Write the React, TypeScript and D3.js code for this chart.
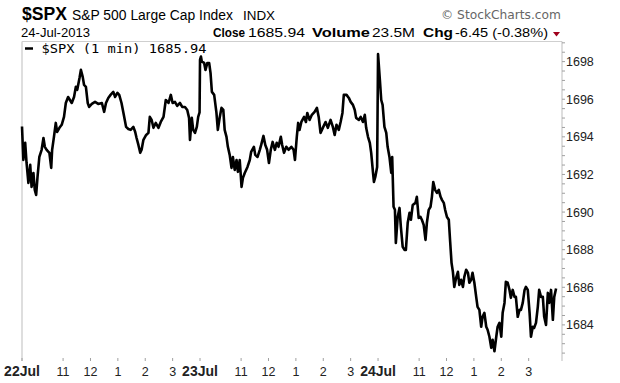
import React from "react";
import * as d3 from "d3";

// ---- data (minutes after 9:30 open, price) ----
const day1: [number, number][] = [
  [0,1694.55],[3,1692.77],[7,1693.68],[10,1692.61],[14,1691.55],[18,1692.51],[21,1691.34],[25,1692.08],[28,1691.18],[31,1690.91],[34,1691.87],[38,1692.93],[43,1693.31],[47,1693.94],[50,1693.47],[54,1693.31],[60,1693.15],[64,1692.35],[66,1693.31],[70,1694.00],[74,1694.74],[77,1694.26],[82,1694.48],[87,1694.64],[92,1695.06],[96,1695.80],[101,1696.12],[105,1695.96],[109,1695.80],[114,1696.12],[118,1696.66],[121,1696.50],[126,1697.13],[129,1697.56],[133,1697.19],[136,1696.76],[140,1696.66],[144,1695.80],[147,1695.59],[153,1695.75],[160,1695.86],[167,1695.75],[175,1695.80],[180,1695.33],[184,1695.80],[189,1696.07],[194,1696.23],[200,1696.39],[204,1696.12],[209,1696.34],[213,1696.23],[218,1695.80],[223,1695.17],[228,1694.53],[233,1694.42],[238,1694.37],[244,1694.53],[248,1694.26],[251,1693.94],[255,1693.57],[259,1693.15],[262,1693.31],[266,1693.84],[272,1694.10],[277,1694.21],[280,1695.06],[284,1694.90],[288,1694.48],[293,1694.74],[299,1694.48],[304,1694.79],[310,1695.06],[315,1695.96],[321,1695.80],[326,1696.23],[330,1695.80],[335,1695.86],[340,1695.65],[346,1695.80],[351,1695.59],[357,1695.59],[362,1695.43],[366,1695.01],[368,1693.84],[372,1695.01],[375,1694.37],[379,1694.21],[383,1694.53],[386,1695.06],[389,1695.30]
];
const day2: [number, number][] = [
  [0,1698.10],[2,1698.27],[4,1698.00],[9,1697.93],[12,1697.56],[16,1697.93],[20,1697.93],[23,1697.40],[26,1696.39],[31,1696.23],[36,1695.27],[39,1694.37],[43,1695.01],[47,1695.54],[51,1695.43],[54,1694.37],[58,1694.00],[61,1693.47],[65,1693.04],[69,1692.35],[72,1692.93],[76,1692.24],[80,1692.77],[83,1692.14],[87,1692.77],[91,1691.34],[94,1691.82],[98,1692.08],[104,1692.40],[109,1692.77],[112,1693.20],[118,1693.47],[121,1693.04],[126,1692.93],[131,1693.31],[134,1693.57],[139,1694.05],[143,1693.57],[147,1693.31],[151,1692.61],[155,1693.31],[159,1693.73],[164,1693.31],[168,1693.68],[172,1693.47],[177,1694.00],[180,1693.57],[184,1693.15],[189,1693.47],[194,1693.31],[200,1693.47],[205,1693.31],[208,1692.77],[212,1694.00],[215,1694.74],[218,1694.37],[222,1694.79],[228,1695.06],[232,1694.79],[235,1695.27],[240,1694.90],[245,1695.17],[251,1695.33],[256,1695.54],[260,1695.06],[264,1694.21],[270,1694.53],[275,1694.79],[280,1694.48],[286,1694.90],[291,1694.53],[295,1694.10],[299,1694.64],[304,1694.37],[308,1694.79],[312,1695.27],[315,1696.23],[321,1696.23],[326,1696.07],[330,1695.86],[335,1695.70],[339,1695.43],[342,1695.01],[348,1694.90],[352,1695.06],[357,1694.79],[361,1695.17],[364,1694.48],[368,1694.00],[372,1693.68],[375,1693.15],[379,1692.08],[381,1691.60],[384,1691.87],[388,1692.40]
];
const day3: [number, number][] = [
  [0,1698.40],[4,1697.03],[7,1695.96],[10,1695.70],[14,1694.53],[18,1694.21],[21,1693.47],[25,1692.93],[29,1692.08],[31,1692.93],[34,1690.28],[37,1690.12],[39,1688.36],[43,1689.74],[47,1690.22],[50,1689.21],[54,1688.15],[58,1687.99],[61,1687.99],[65,1689.43],[69,1689.96],[72,1689.59],[76,1690.38],[82,1690.49],[85,1690.81],[89,1689.69],[93,1689.74],[96,1689.59],[100,1689.32],[104,1688.52],[107,1689.43],[111,1690.12],[115,1690.28],[118,1690.81],[121,1691.60],[125,1691.18],[129,1691.02],[133,1691.18],[137,1690.81],[140,1690.65],[144,1690.49],[147,1690.12],[151,1689.74],[155,1689.59],[158,1688.42],[161,1687.30],[164,1686.82],[167,1686.02],[171,1686.50],[175,1686.82],[178,1686.13],[182,1686.40],[186,1686.02],[189,1686.55],[193,1686.93],[197,1686.77],[200,1686.24],[204,1686.40],[207,1686.77],[211,1686.24],[215,1685.49],[218,1684.96],[222,1684.80],[226,1683.90],[229,1684.43],[233,1684.64],[237,1683.90],[240,1683.74],[244,1683.37],[248,1682.78],[251,1683.21],[255,1682.60],[259,1683.37],[262,1683.90],[266,1684.11],[270,1683.37],[273,1684.64],[277,1685.17],[280,1686.29],[284,1686.24],[288,1685.86],[291,1685.44],[295,1685.86],[299,1685.49],[302,1685.49],[306,1684.43],[310,1684.80],[313,1684.80],[317,1685.17],[321,1685.86],[324,1686.02],[328,1685.86],[332,1684.64],[335,1683.37],[339,1683.90],[342,1683.84],[346,1684.11],[350,1684.96],[353,1685.86],[357,1685.49],[361,1685.49],[364,1684.43],[368,1684.00],[372,1685.70],[375,1685.17],[379,1685.86],[383,1684.27],[386,1685.49],[390,1685.94]
];
const days = [day1, day2, day3];
const dayLabels = ["22Jul", "23Jul", "24Jul"];
const hourLabels = ["11", "12", "1", "2", "3"];
const hourOffsets = [90, 150, 210, 270, 330];
const yTickValues = [1684, 1686, 1688, 1690, 1692, 1694, 1696, 1698];
const SESSION = 390;

export default function App() {
  const W = 620, H = 383;
  const left = 22, right = 562, top = 41.5, bottom = 361;
  const x = d3.scaleLinear().domain([0, 1183]).range([left, right]);
  const y = d3.scaleLinear().domain([1682.08, 1699.07]).range([bottom, top]);

  const series: [number, number][] = [];
  days.forEach((d, i) => d.forEach(([m, p]) => series.push([i * SESSION + m, p])));
  const line = d3.line<[number, number]>().x((d) => x(d[0])).y((d) => y(d[1]));

  const minor = d3.range(1682.5, 1699.01, 0.5);
  const xTicks: { pos: number; label: string; bold: boolean }[] = [];
  dayLabels.forEach((lab, i) => {
    xTicks.push({ pos: i * SESSION, label: lab, bold: true });
    hourLabels.forEach((h, j) => xTicks.push({ pos: i * SESSION + hourOffsets[j], label: h, bold: false }));
  });

  const sans = "'Liberation Sans', Arial, sans-serif";
  return (
    <svg width={W} height={H} style={{ position: "absolute", left: 0, top: 0, background: "#fff" }}>
      <rect x={0} y={0} width={W} height={H} fill="#fff" />
      {/* header */}
      <g fontFamily={sans} fill="#000">
        <text x={22} y={20} fontSize={18} fontWeight="bold" textLength={45} lengthAdjust="spacingAndGlyphs">$SPX</text>
        <text x={72} y={19.5} fontSize={14} textLength={161} lengthAdjust="spacingAndGlyphs">S&amp;P 500 Large Cap Index</text>
        <text x={243} y={19.5} fontSize={12} textLength={32} lengthAdjust="spacingAndGlyphs">INDX</text>
        <text x={21} y={37} fontSize={12} textLength={69} lengthAdjust="spacingAndGlyphs">24-Jul-2013</text>
        <text x={213} y={37} fontSize={12.5} fontWeight="bold" textLength={32} lengthAdjust="spacingAndGlyphs">Close</text>
        <text x={248} y={37} fontSize={13} textLength={57} lengthAdjust="spacingAndGlyphs">1685.94</text>
        <text x={312} y={37} fontSize={13} fontWeight="bold" textLength={58} lengthAdjust="spacingAndGlyphs">Volume</text>
        <text x={372} y={37} fontSize={13} textLength={43} lengthAdjust="spacingAndGlyphs">23.5M</text>
        <text x={423} y={37} fontSize={13} fontWeight="bold" textLength={30} lengthAdjust="spacingAndGlyphs">Chg</text>
        <text x={455} y={37} fontSize={13} textLength={93} lengthAdjust="spacingAndGlyphs">-6.45 (-0.38%)</text>
      </g>
      <polygon points="553,32 560,32 556.5,36.5" fill="#a0001c" />
      <text x={561} y={19} fontSize={11.5} fontFamily="'DejaVu Sans', sans-serif" fill="#666" textAnchor="end" textLength={120} lengthAdjust="spacingAndGlyphs">© StockCharts.com</text>

      {/* frame (left, top, right) */}
      <line x1={left} x2={left} y1={top} y2={bottom} stroke="#bdbdbd" />
      <line x1={left} x2={right} y1={top} y2={top} stroke="#cfcfcf" />
      <line x1={right} x2={right} y1={top} y2={bottom} stroke="#bdbdbd" />

      {/* y ticks */}
      {minor.map((v) => (
        <line key={v} x1={right} x2={right + 3} y1={y(v)} y2={y(v)} stroke="#a0a0a0" strokeWidth={1} />
      ))}
      {yTickValues.map((v) => (
        <text key={v} x={566} y={y(v) + 4.5} fontSize={12.5} fontFamily={sans} fill="#222">{v}</text>
      ))}

      {/* x ticks */}
      {xTicks.map((t, i) => (
        <g key={i}>
          <line x1={x(t.pos)} x2={x(t.pos)} y1={bottom - 3} y2={bottom} stroke="#a0a0a0" />
          <text x={x(t.pos)} y={376} textAnchor="middle" fontFamily={sans} fontSize={t.bold ? 14 : 12.5} fontWeight={t.bold ? "bold" : "normal"} fill="#222">{t.label}</text>
        </g>
      ))}

      {/* price line */}
      <path d={line(series) || ""} fill="none" stroke="#000" strokeWidth={2.6} strokeLinejoin="round" />

      {/* legend */}
      <line x1={25} x2={33} y1={48.5} y2={48.5} stroke="#000" strokeWidth={2.5} />
      <text x={41.5} y={53} fontSize={13} fontFamily="'DejaVu Sans Mono', monospace" fill="#000" textLength={165} lengthAdjust="spacingAndGlyphs">$SPX (1 min) 1685.94</text>
    </svg>
  );
}
